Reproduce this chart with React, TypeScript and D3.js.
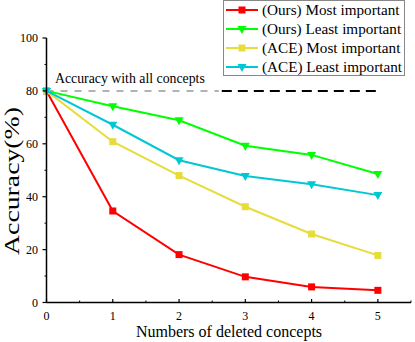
import React from "react";
import * as d3 from "d3";

// chart data
const deleted = [0, 1, 2, 3, 4, 5];
const oursMost = [80, 34.6, 18.1, 9.7, 5.9, 4.6];
const oursLeast = [80, 74.2, 68.9, 59.3, 55.8, 48.6];
const aceMost = [80, 60.8, 48.0, 36.2, 25.9, 17.8];
const aceLeast = [80, 67.2, 53.8, 47.8, 44.7, 40.6];
const seriesNames = [
  "(Ours) Most important",
  "(Ours) Least important",
  "(ACE) Most important",
  "(ACE) Least important",
];
const xTicks = [0, 1, 2, 3, 4, 5];
const yTicks = [0, 20, 40, 60, 80, 100];
const baseline = 80;

const W = 415;
const H = 342;
const font = "'Liberation Serif', 'Times New Roman', serif";

const series = [
  { name: seriesNames[0], values: oursMost, color: "#ff0000", marker: "square" },
  { name: seriesNames[1], values: oursLeast, color: "#00ff00", marker: "tri" },
  { name: seriesNames[2], values: aceMost, color: "#e6dc3a", marker: "square" },
  { name: seriesNames[3], values: aceLeast, color: "#00c8d2", marker: "tri" },
];

const Marker = ({ type, cx, cy, color }) => {
  if (type === "square") {
    return <rect x={cx - 3.5} y={cy - 3.5} width={7} height={7} fill={color} />;
  }
  return (
    <path
      d={`M${cx - 4.5},${cy - 3}L${cx + 4.5},${cy - 3}L${cx},${cy + 5}Z`}
      fill={color}
    />
  );
};

export default function App() {
  // scales for the plot area
  const x = d3.scaleLinear().domain([0, 5.5]).range([46.5, 411]);
  const y = d3.scaleLinear().domain([0, 100]).range([302.5, 38]);

  const line = d3
    .line<number>()
    .x((_, i) => x(deleted[i]))
    .y((d) => y(d));

  const xMinor = d3.range(0.5, 5.6, 1);
  const yMinor = d3.range(10, 100, 20);
  const splitX = 2.6; // where the gray dashes turn black

  return (
    <svg
      width={W}
      height={H}
      style={{ position: "absolute", left: 0, top: 0, background: "#fff" }}
      fontFamily={font}
    >
      {/* reference line: accuracy with all concepts */}
      <line
        x1={x(0)}
        x2={x(splitX)}
        y1={y(baseline)}
        y2={y(baseline)}
        stroke="#999"
        strokeWidth={1.5}
        strokeDasharray="7,7"
      />
      <line
        x1={x(splitX) + 3}
        x2={x(5)}
        y1={y(baseline)}
        y2={y(baseline)}
        stroke="#000"
        strokeWidth={2}
        strokeDasharray="10,6"
      />
      <text x={55} y={83} fontSize={13.8} fill="#000">
        Accuracy with all concepts
      </text>

      {/* series lines */}
      {series.map((s) => (
        <g key={s.name}>
          <path d={line(s.values)} fill="none" stroke={s.color} strokeWidth={2} />
          {s.values.map((v, i) => (
            <Marker key={i} type={s.marker} cx={x(deleted[i])} cy={y(v)} color={s.color} />
          ))}
        </g>
      ))}

      {/* axes */}
      <line x1={x(0)} x2={x(0)} y1={y(0)} y2={y(100)} stroke="#000" strokeWidth={1.5} />
      <line x1={x(0)} x2={x(5.5)} y1={y(0)} y2={y(0)} stroke="#000" strokeWidth={1.5} />
      {yTicks.map((t) => (
        <g key={t}>
          <line x1={x(0) - 4} x2={x(0)} y1={y(t)} y2={y(t)} stroke="#000" strokeWidth={1.2} />
          <text x={38} y={y(t) + 4} fontSize={12} textAnchor="end">
            {t}
          </text>
        </g>
      ))}
      {yMinor.map((t) => (
        <line key={t} x1={x(0) - 2} x2={x(0)} y1={y(t)} y2={y(t)} stroke="#000" strokeWidth={1} />
      ))}
      {xTicks.map((t) => (
        <g key={t}>
          <line x1={x(t)} x2={x(t)} y1={y(0) - 3.5} y2={y(0)} stroke="#000" strokeWidth={1.2} />
          <text x={x(t)} y={319.5} fontSize={12} textAnchor="middle">
            {t}
          </text>
        </g>
      ))}
      {xMinor.map((t) => (
        <line key={t} x1={x(t)} x2={x(t)} y1={y(0) - 2} y2={y(0)} stroke="#000" strokeWidth={1} />
      ))}

      <text x={229} y={337} fontSize={16} textAnchor="middle">
        Numbers of deleted concepts
      </text>
      <text
        transform={`translate(19,${181}) rotate(-90)`}
        fontSize={20}
        textAnchor="middle"
        textLength={148}
        lengthAdjust="spacingAndGlyphs"
      >
        Accuracy(%)
      </text>

      {/* legend */}
      <rect x={223.5} y={0.5} width={181} height={75} fill="#fff" stroke="#888" strokeWidth={1} />
      {series.map((s, i) => {
        const ly = 10 + i * 19;
        return (
          <g key={s.name}>
            <line x1={226} x2={258} y1={ly} y2={ly} stroke={s.color} strokeWidth={2} />
            <Marker type={s.marker} cx={242} cy={ly} color={s.color} />
            <text x={262} y={ly + 5} fontSize={15.2}>
              {s.name}
            </text>
          </g>
        );
      })}
    </svg>
  );
}
